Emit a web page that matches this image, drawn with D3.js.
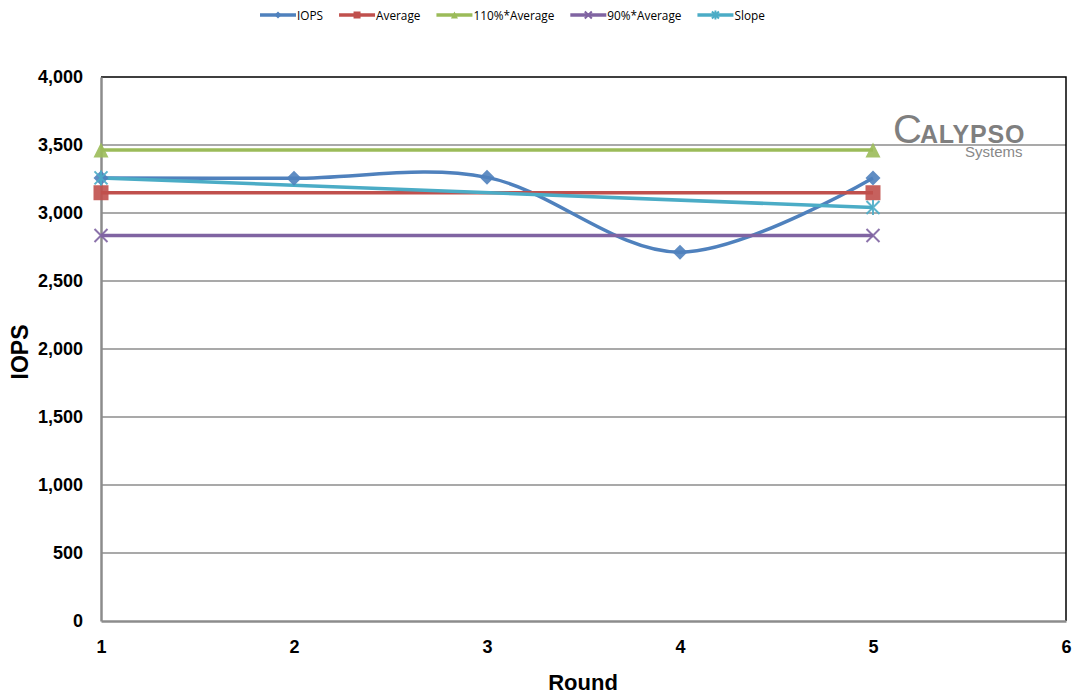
<!DOCTYPE html>
<html>
<head>
<meta charset="utf-8">
<script src="https://cdn.jsdelivr.net/npm/d3@7/dist/d3.min.js"></script>
<style>
  html, body { margin: 0; padding: 0; background: #fff; }
  svg { display: block; }
</style>
</head>
<body>
<svg id="chart" width="1074" height="696"></svg>
<script>
// Steady-state check: IOPS per round against its average band and trend line
const rounds = [1, 2, 3, 4, 5];
const iops = [3258, 3255, 3262, 2712, 3257];
const bandRounds = [1, 5];
const average = [3149, 3149];
const avg110 = [3464, 3464];
const avg90 = [2834, 2834];
const slope = [3258, 3040];
const xTicks = [1, 2, 3, 4, 5, 6];
const yTicks = [0, 500, 1000, 1500, 2000, 2500, 3000, 3500, 4000];
const seriesNames = ["IOPS", "Average", "110%*Average", "90%*Average", "Slope"];

const series = [
  { name: seriesNames[0], xs: rounds, ys: iops, color: "#4F81BD", marker: "diamond", smooth: true },
  { name: seriesNames[1], xs: bandRounds, ys: average, color: "#C0504D", marker: "square" },
  { name: seriesNames[2], xs: bandRounds, ys: avg110, color: "#9BBB59", marker: "triangle" },
  { name: seriesNames[3], xs: bandRounds, ys: avg90, color: "#8064A2", marker: "x" },
  { name: seriesNames[4], xs: bandRounds, ys: slope, color: "#4BACC6", marker: "star" }
];

const svg = d3.select("#chart");
const margin = { left: 101, right: 8, top: 77, bottom: 75 };
const W = 1074, H = 696;
const FONT = "Liberation Sans, Arial, sans-serif";

const x = d3.scaleLinear().domain([1, 6]).range([margin.left, W - margin.right]);
const y = d3.scaleLinear().domain([0, 4000]).range([H - margin.bottom, margin.top]);

// horizontal gridlines
svg.append("g").selectAll("line").data(yTicks.slice(1, -1)).join("line")
  .attr("x1", x(1)).attr("x2", x(6))
  .attr("y1", d => y(d)).attr("y2", d => y(d))
  .attr("stroke", "#8c8c8c").attr("stroke-width", 1.5);

// plot frame (top and right)
svg.append("path")
  .attr("d", `M${x(1)},${y(4000)}H${x(6)}V${y(0)}`)
  .attr("fill", "none").attr("stroke", "#000").attr("stroke-width", 1.5);

// axes
const fmt = d3.format(",");
const yAxis = svg.append("g").attr("transform", `translate(${x(1)},0)`)
  .call(d3.axisLeft(y).tickValues(yTicks).tickFormat(fmt).tickSize(0).tickPadding(18));
const xAxis = svg.append("g").attr("transform", `translate(0,${y(0)})`)
  .call(d3.axisBottom(x).tickValues(xTicks).tickFormat(d3.format("d")).tickSize(0).tickPadding(19));
[yAxis, xAxis].forEach(a => {
  a.select(".domain").attr("stroke", "#8c8c8c").attr("stroke-width", 2.5);
  a.selectAll("text").attr("font-family", FONT)
    .attr("font-size", 18).attr("font-weight", "bold").attr("fill", "#000");
});

// axis titles
svg.append("text").attr("x", 583).attr("y", 690).attr("text-anchor", "middle")
  .attr("font-family", FONT).attr("font-size", 22)
  .attr("font-weight", "bold").text("Round");
svg.append("text").attr("transform", `translate(28,${(y(0) + y(4000)) / 2 + 3}) rotate(-90)`)
  .attr("text-anchor", "middle")
  .attr("font-family", FONT).attr("font-size", 23)
  .attr("font-weight", "bold").text("IOPS");

// logo
const logo = svg.append("g").attr("fill", "#7f7f7f").attr("font-family", FONT);
const brand = logo.append("text").attr("x", 893).attr("y", 143);
brand.append("tspan").attr("font-size", 40).text("C");
brand.append("tspan").attr("font-size", 25).attr("font-weight", "bold")
  .attr("dx", -2).attr("letter-spacing", 0.8).text("ALYPSO");
logo.append("text").attr("x", 965).attr("y", 157).attr("font-size", 15).attr("fill", "#888").text("Systems");

// marker painter
function drawMarker(g, type, color, s) {
  const h = s / 2;
  if (type === "diamond") {
    g.append("path").attr("d", `M0,${-h}L${h},0L0,${h}L${-h},0Z`).attr("fill", color);
  } else if (type === "square") {
    g.append("rect").attr("x", -h).attr("y", -h).attr("width", s).attr("height", s).attr("fill", color);
  } else if (type === "triangle") {
    g.append("path").attr("d", `M0,${-h}L${h},${h}L${-h},${h}Z`).attr("fill", color);
  } else if (type === "x") {
    g.append("path").attr("d", `M${-h},${-h}L${h},${h}M${-h},${h}L${h},${-h}`)
      .attr("stroke", color).attr("stroke-width", 2).attr("fill", "none");
  } else if (type === "star") {
    g.append("path").attr("d", `M${-h},${-h}L${h},${h}M${-h},${h}L${h},${-h}M0,${-h - 1}V${h + 1}`)
      .attr("stroke", color).attr("stroke-width", 2).attr("fill", "none");
  }
}

const markerSize = { diamond: 15, square: 15, triangle: 15, x: 13, star: 13 };

// series lines and markers
const plot = svg.append("g");
series.forEach(s => {
  const pts = s.xs.map((v, i) => [x(v), y(s.ys[i])]);
  const line = d3.line().curve(s.smooth ? d3.curveCardinal.tension(0) : d3.curveLinear);
  plot.append("path").attr("d", line(pts)).attr("fill", "none")
    .attr("stroke", s.color).attr("stroke-width", 3.5).attr("stroke-linejoin", "round");
});
series.forEach(s => {
  s.xs.forEach((v, i) => {
    const g = plot.append("g").attr("transform", `translate(${x(v)},${y(s.ys[i])})`).attr("opacity", 0.9);
    drawMarker(g, s.marker, s.color, markerSize[s.marker]);
  });
});

// legend
const legend = svg.append("g").attr("transform", "translate(0,15)");
let lx = 260;
series.forEach(s => {
  const item = legend.append("g").attr("transform", `translate(${lx},0)`);
  item.append("line").attr("x1", 0).attr("x2", 36).attr("y1", 0).attr("y2", 0)
    .attr("stroke", s.color).attr("stroke-width", 3.5);
  const mg = item.append("g").attr("transform", "translate(18,0)");
  drawMarker(mg, s.marker, s.color, 7);
  const t = item.append("text").attr("x", 37).attr("y", 4.5)
    .attr("font-family", "Open Sans, Liberation Sans, sans-serif").attr("font-size", 11.8)
    .attr("fill", "#000").text(s.name);
  lx += 37 + t.node().getComputedTextLength() + 16;
});
</script>
</body>
</html>
